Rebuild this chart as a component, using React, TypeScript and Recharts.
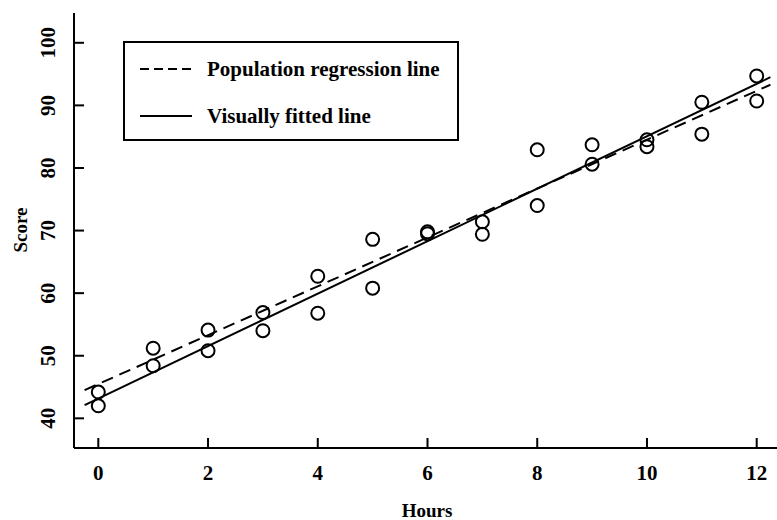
import { ScatterChart, Scatter, XAxis, YAxis, Legend } from "recharts";

// observed points (two students per hour)
const hours = [0, 0, 1, 1, 2, 2, 3, 3, 4, 4, 5, 5, 6, 6, 7, 7, 8, 8, 9, 9, 10, 10, 11, 11, 12, 12];
const scores = [
  44.2, 42.0, 51.2, 48.4, 54.1, 50.8, 56.9, 54.0, 62.7, 56.8, 68.6, 60.8, 69.8, 69.5,
  71.4, 69.4, 82.9, 74.0, 83.7, 80.6, 84.5, 83.4, 90.5, 85.4, 94.7, 90.7,
];

// line end points
const lineX = [-0.25, 12.25];
const populationY = [44.5, 93.3];
const fittedY = [42.1, 94.5];

const xTicks = [0, 2, 4, 6, 8, 10, 12];
const yTicks = [40, 50, 60, 70, 80, 90, 100];

const FONT = "'Liberation Serif', 'Times New Roman', serif";

const points = hours.map((h, i) => ({ x: h, y: scores[i] }));
const popLine = lineX.map((x, i) => ({ x, y: populationY[i] }));
const fitLine = lineX.map((x, i) => ({ x, y: fittedY[i] }));

function Circle(p: any) {
  return <circle cx={p.cx} cy={p.cy} r={6.5} fill="none" stroke="#000" strokeWidth={2} />;
}

const renderXTick = (p: any) => (
  <text key={`x-${p.payload.value}`} x={p.x} y={473} textAnchor="middle" dominantBaseline="central"
    fontFamily={FONT} fontWeight="bold" fontSize={21} fill="#000">
    {p.payload.value}
  </text>
);

const renderYTick = (p: any) => {
  const cy = Number(p.y);
  return (
    <text key={`y-${p.payload.value}`} x={48} y={cy} textAnchor="middle" dominantBaseline="central"
      transform={`rotate(-90,48,${cy})`}
      style={{ transform: `rotate(-90deg)`, transformOrigin: `48px ${cy}px` }}
      fontFamily={FONT} fontWeight="bold" fontSize={21} fill="#000">
      {p.payload.value}
    </text>
  );
};

function LegendBox() {
  return (
    <svg width={336} height={100} style={{ display: "block" }}>
      <rect x={1} y={1} width={334} height={98} fill="#fff" stroke="#000" strokeWidth={2} />
      <line x1={17} x2={69} y1={28} y2={28} stroke="#000" strokeWidth={2} strokeDasharray="9 5" />
      <text x={84} y={28} dominantBaseline="central" fontFamily={FONT} fontWeight="bold" fontSize={21} fill="#000">
        Population regression line
      </text>
      <line x1={17} x2={69} y1={75} y2={75} stroke="#000" strokeWidth={2} />
      <text x={84} y={75} dominantBaseline="central" fontFamily={FONT} fontWeight="bold" fontSize={21} fill="#000">
        Visually fitted line
      </text>
    </svg>
  );
}

export default function App() {
  return (
    <div style={{ position: "absolute", top: 0, left: 0, background: "#fff" }}>
      <ScatterChart width={777} height={520} margin={{ top: 13, right: 0, bottom: 0, left: 0 }}>
        <XAxis type="number" dataKey="x" domain={[-0.443, 12.37]} ticks={xTicks}
          allowDataOverflow height={72} tickSize={-10} tick={renderXTick}
          axisLine={{ stroke: "#000", strokeWidth: 2 }} tickLine={{ stroke: "#000", strokeWidth: 2 }}
          label={{
            value: "Hours",
            content: () => (
              <text x={427} y={510} textAnchor="middle" dominantBaseline="central"
                fontFamily={FONT} fontWeight="bold" fontSize={19} fill="#000">Hours</text>
            ),
          }} />
        <YAxis type="number" dataKey="y" domain={[35.26, 104.76]} ticks={yTicks}
          allowDataOverflow width={74} tickSize={-10} tick={renderYTick}
          axisLine={{ stroke: "#000", strokeWidth: 2 }} tickLine={{ stroke: "#000", strokeWidth: 2 }}
          label={{
            value: "Score",
            content: () => (
              <g transform="translate(20, 230) rotate(-90)">
                <text x={0} y={0} textAnchor="middle" dominantBaseline="central"
                  fontFamily={FONT} fontWeight="bold" fontSize={19} fill="#000">Score</text>
              </g>
            ),
          }} />
        <Legend layout="horizontal" verticalAlign="middle" align="center"
          wrapperStyle={{ top: 41, left: 123, width: 336, height: 100 }}
          content={() => <LegendBox />} />
        <Scatter name="Population regression line" data={popLine} line={{ stroke: "#000", strokeWidth: 2, strokeDasharray: "12 7" }}
          shape={() => <g />} isAnimationActive={false} />
        <Scatter name="Visually fitted line" data={fitLine} line={{ stroke: "#000", strokeWidth: 2 }}
          shape={() => <g />} isAnimationActive={false} />
        <Scatter name="Observed" data={points} shape={<Circle />} isAnimationActive={false} />
      </ScatterChart>
    </div>
  );
}
